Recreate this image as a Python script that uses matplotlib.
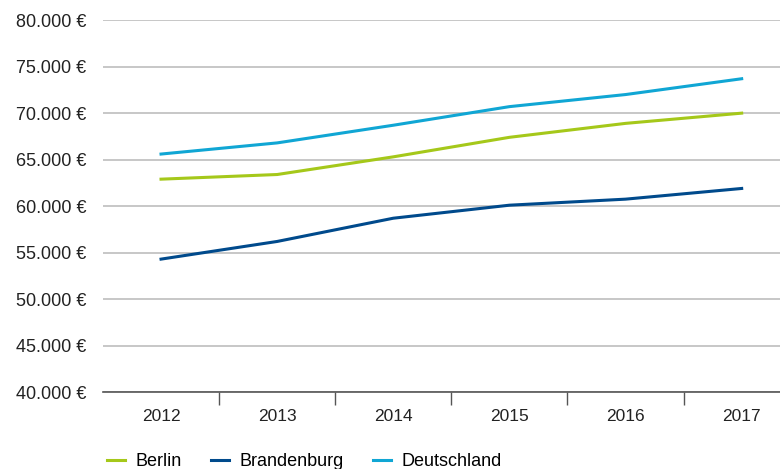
import matplotlib.pyplot as plt
from matplotlib.ticker import FuncFormatter, FixedLocator

years = ['2012', '2013', '2014', '2015', '2016', '2017']
berlin = [62900, 63400, 65300, 67400, 68900, 70000]
brandenburg = [54300, 56200, 58700, 60100, 60750, 61900]
deutschland = [65600, 66800, 68700, 70700, 72000, 73700]

plt.rcParams['font.family'] = ['Liberation Sans', 'DejaVu Sans']

fig = plt.figure(figsize=(7.8, 4.69), dpi=100)
ax = fig.add_axes([0.132, 0.164, 0.868, 0.793])

x = range(len(years))
ax.plot(x, berlin, color='#a5c81a', lw=2.2, label='Berlin')
ax.plot(x, brandenburg, color='#004a8c', lw=2.2, label='Brandenburg')
ax.plot(x, deutschland, color='#10a6d4', lw=2.2, label='Deutschland')

ax.set_ylim(40000, 80000)
ax.set_xlim(-0.5, 5.33)
ax.set_yticks(range(40000, 80001, 5000))
ax.yaxis.set_major_formatter(FuncFormatter(lambda v, p: f'{int(v):,} €'.replace(',', '.')))
ax.grid(axis='y', color='#bdbdbd', lw=1.2)
ax.set_axisbelow(True)

ax.set_xticks(list(x))
ax.set_xticklabels(years)
ax.xaxis.set_minor_locator(FixedLocator([0.5, 1.5, 2.5, 3.5, 4.5]))
ax.tick_params(axis='x', which='major', length=0, pad=12, labelsize=12.5, colors='#222222')
ax.tick_params(axis='x', which='minor', length=9, color='#555555', width=1)
ax.tick_params(axis='y', length=0, pad=12, labelsize=13, colors='#222222')

for s in ['top', 'right', 'left']:
    ax.spines[s].set_visible(False)
ax.spines['bottom'].set_color('#555555')
ax.spines['bottom'].set_linewidth(1.2)

ax.legend(loc='upper left', bbox_to_anchor=(-0.005, -0.145), ncol=3, frameon=False,
          fontsize=13, handlelength=1.0, handletextpad=0.6, columnspacing=1.6,
          borderaxespad=0)

plt.savefig('out.png', dpi=100)
